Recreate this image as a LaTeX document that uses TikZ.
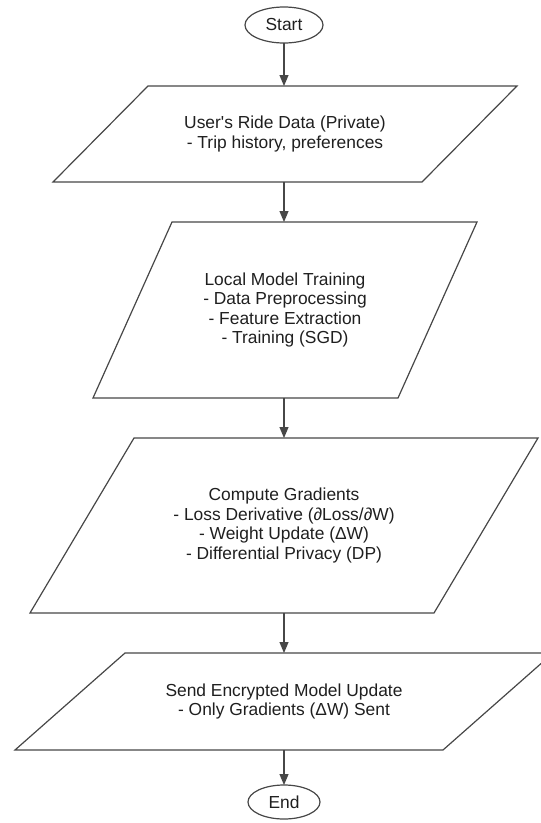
\documentclass[tikz,border=0pt]{standalone}
\usepackage{fontspec}
\setmainfont{Liberation Sans}
\usetikzlibrary{arrows.meta,shapes.geometric}

\newcommand\flowfont{\fontsize{17.4}{19.4}\selectfont}

\tikzset{
  flowline/.style={draw=black!72, line width=1.2pt},
  terminal/.style={ellipse, flowline, inner sep=0pt, outer sep=0pt,
                   font=\flowfont, text=black!88},
  databox/.style={inner sep=0pt, outer sep=0pt, align=center,
                  font=\flowfont, text=black!88},
  link/.style={flowline, -{Triangle[length=11pt,width=9pt]}},
}

% outline of a data box as a parallelogram: #1 node, #2 horizontal slant
\newcommand\slantframe[2]{%
  \draw[flowline, line join=miter]
    ([xshift=#2/2]#1.north west) -- ([xshift=#2/2]#1.north east)
    -- ([xshift=-#2/2]#1.south east) -- ([xshift=-#2/2]#1.south west)
    -- cycle;}

\begin{document}
\begin{tikzpicture}[x=1pt, y=-1pt]
  \path[use as bounding box] (0,0) rectangle (541,823);
  \clip (0,0) rectangle (541,823);

  \node[terminal, minimum width=78pt, minimum height=36pt] (start) at (284,25) {Start};

  \node[databox, minimum width=369pt, minimum height=96pt] (ride) at (285,134)
    {User\textquotesingle s Ride Data (Private)\\- Trip history, preferences};
  \slantframe{ride}{95}

  \node[databox, minimum width=305pt, minimum height=176pt] (train) at (285,310)
    {Local Model Training\\- Data Preprocessing\\- Feature Extraction\\- Training (SGD)};
  \slantframe{train}{79}

  \node[databox, minimum width=404pt, minimum height=175pt] (grad) at (284,525.5)
    {Compute Gradients\\- Loss Derivative (∂Loss/∂W)\\- Weight Update (ΔW)\\- Differential Privacy (DP)};
  \slantframe{grad}{104}

  \node[databox, minimum width=428pt, minimum height=97pt] (send) at (284,701.5)
    {Send Encrypted Model Update\\- Only Gradients (ΔW) Sent};
  \slantframe{send}{110}

  \node[terminal, minimum width=72pt, minimum height=34pt] (finish) at (284,802) {End};

  \draw[link] (start.south) -- (start.south |- ride.north);
  \draw[link] (ride.south -| start.south) -- (train.north -| start.south);
  \draw[link] (train.south -| start.south) -- (grad.north -| start.south);
  \draw[link] (grad.south -| start.south) -- (send.north -| start.south);
  \draw[link] (send.south -| start.south) -- (finish.north);
\end{tikzpicture}
\end{document}
